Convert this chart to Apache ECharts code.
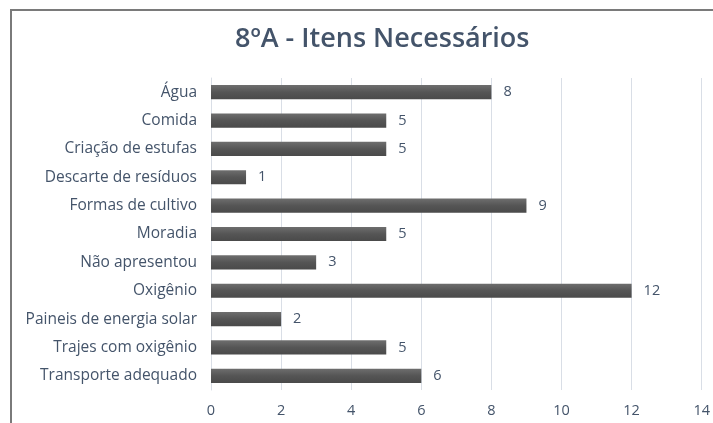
<!DOCTYPE html>
<html>
<head>
<meta charset="utf-8">
<script src="https://cdn.jsdelivr.net/npm/echarts@6/dist/echarts.min.js"></script>
<style>
  html, body { margin: 0; padding: 0; background: #fff; overflow: hidden; }
  #frame {
    position: absolute; left: 10px; top: 9px; width: 760px; height: 460px;
    border-left: 2px solid #7a7a7a; border-top: 2px solid #7a7a7a;
  }
  #chart { position: absolute; left: 0; top: 0; width: 713px; height: 423px; }
</style>
</head>
<body>
<div id="frame"></div>
<div id="chart"></div>
<script>
// categories listed top to bottom, as in the picture
const categories = [
  'Água',
  'Comida',
  'Criação de estufas',
  'Descarte de resíduos',
  'Formas de cultivo',
  'Moradia',
  'Não apresentou',
  'Oxigênio',
  'Paineis de energia solar',
  'Trajes com oxigênio',
  'Transporte adequado'
]
const counts = [8, 5, 5, 1, 9, 5, 3, 12, 2, 5, 6]

const textColor = '#44546a'
const font = 'Open Sans'

const chart = echarts.init(document.getElementById('chart'))

chart.setOption({
  animation: false,
  title: {
    text: '8ºA - Itens Necessários',
    left: 230,
    top: 21,
    textStyle: {
      color: textColor,
      fontFamily: font,
      fontWeight: 600,
      fontSize: 27
    }
  },
  grid: {
    left: 211,
    right: 7,
    top: 78,
    bottom: 33,
    containLabel: false
  },
  xAxis: {
    type: 'value',
    min: 0,
    max: 14,
    interval: 2,
    axisLine: { show: false },
    axisTick: { show: false },
    splitLine: { lineStyle: { color: '#d9dee6', width: 1 } },
    axisLabel: {
      color: textColor,
      fontFamily: font,
      fontSize: 14.5,
      margin: 13
    }
  },
  yAxis: {
    type: 'category',
    inverse: true,
    data: categories,
    axisLine: { lineStyle: { color: '#d9dee6' } },
    axisTick: { show: false },
    axisLabel: {
      color: textColor,
      fontFamily: font,
      fontSize: 15.5,
      margin: 14
    }
  },
  series: [{
    type: 'bar',
    data: counts,
    barWidth: '50%',
    itemStyle: {
      color: new echarts.graphic.LinearGradient(0, 0, 0, 1, [
        { offset: 0, color: '#6e6e6e' },
        { offset: 0.5, color: '#555555' },
        { offset: 1, color: '#4a4a4a' }
      ])
    },
    label: {
      show: true,
      position: 'right',
      distance: 12,
      color: textColor,
      fontFamily: font,
      fontSize: 14.5
    }
  }]
})
</script>
</body>
</html>
